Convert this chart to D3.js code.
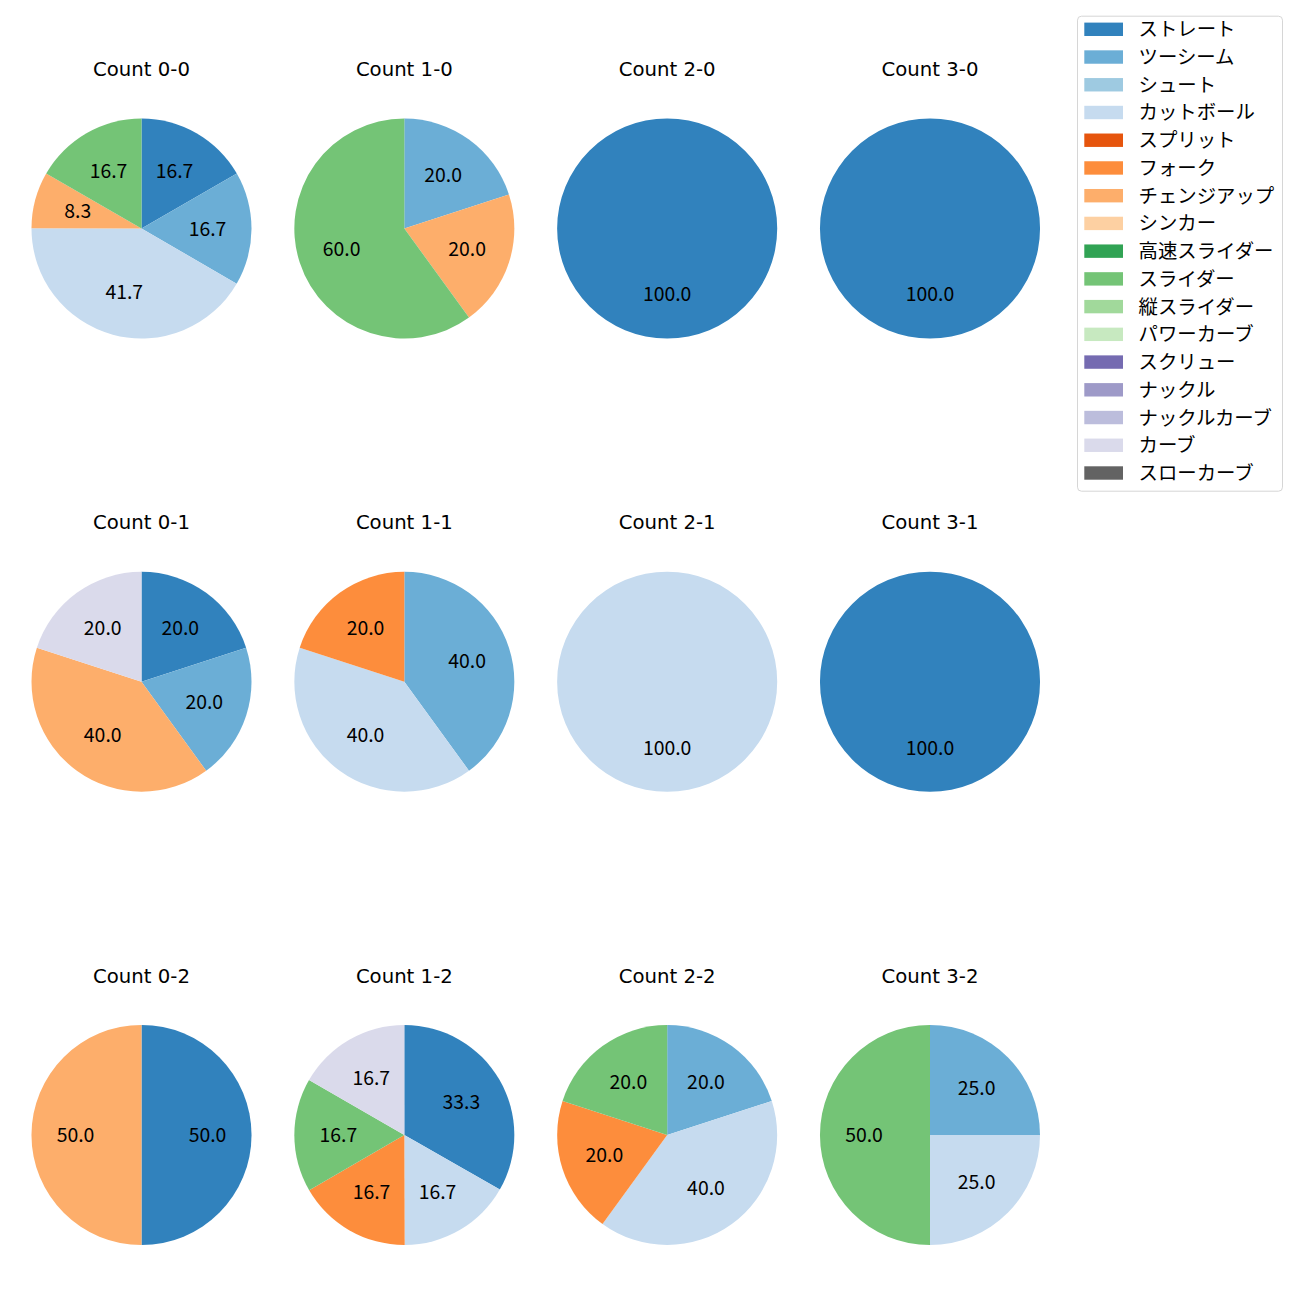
<!DOCTYPE html>
<html>
<head>
<meta charset="utf-8">
<script src="https://cdn.jsdelivr.net/npm/d3@7"></script>
<style>
  html, body { margin: 0; padding: 0; background: #fff; }
  text { font-family: "Noto Sans CJK JP", "Noto Sans", sans-serif; fill: #000; }
  text.title { font-family: "DejaVu Sans", "Noto Sans", sans-serif; }
</style>
</head>
<body>
<svg id="chart" width="1300" height="1300"></svg>
<script>
// ---- data ----
const pitchTypes = ["ストレート","ツーシーム","シュート","カットボール","スプリット","フォーク","チェンジアップ","シンカー","高速スライダー","スライダー","縦スライダー","パワーカーブ","スクリュー","ナックル","ナックルカーブ","カーブ","スローカーブ"];
const pitchColors = ["#3182bd","#6baed6","#9ecae1","#c6dbef","#e6550d","#fd8d3c","#fdae6b","#fdd0a2","#31a354","#74c476","#a1d99b","#c7e9c0","#756bb1","#9e9ac8","#bcbddc","#dadaeb","#636363"];
const countTitles = ["Count 0-0","Count 1-0","Count 2-0","Count 3-0","Count 0-1","Count 1-1","Count 2-1","Count 3-1","Count 0-2","Count 1-2","Count 2-2","Count 3-2"];
// percentage share per pitch type (in pitchTypes order)
const count00 = [16.7,16.7,0,41.7,0,0,8.3,0,0,16.7,0,0,0,0,0,0,0];
const count10 = [0,20.0,0,0,0,0,20.0,0,0,60.0,0,0,0,0,0,0,0];
const count20 = [100.0,0,0,0,0,0,0,0,0,0,0,0,0,0,0,0,0];
const count30 = [100.0,0,0,0,0,0,0,0,0,0,0,0,0,0,0,0,0];
const count01 = [20.0,20.0,0,0,0,0,40.0,0,0,0,0,0,0,0,0,20.0,0];
const count11 = [0,40.0,0,40.0,0,20.0,0,0,0,0,0,0,0,0,0,0,0];
const count21 = [0,0,0,100.0,0,0,0,0,0,0,0,0,0,0,0,0,0];
const count31 = [100.0,0,0,0,0,0,0,0,0,0,0,0,0,0,0,0,0];
const count02 = [50.0,0,0,0,0,0,50.0,0,0,0,0,0,0,0,0,0,0];
const count12 = [33.3,0,0,16.7,0,16.7,0,0,0,16.7,0,0,0,0,0,16.7,0];
const count22 = [0,20.0,0,40.0,0,20.0,0,0,0,20.0,0,0,0,0,0,0,0];
const count32 = [0,25.0,0,25.0,0,0,0,0,0,50.0,0,0,0,0,0,0,0];
const countValues = [count00,count10,count20,count30,count01,count11,count21,count31,count02,count12,count22,count32];

// ---- layout ----
const svg = d3.select("#chart");
const colX = d3.scalePoint().domain([0,1,2,3]).range([141.5, 930]);
const rowY = d3.scalePoint().domain([0,1,2]).range([228.5, 1135]);
const R = 110;
const FS = 19.4;
const color = d3.scaleOrdinal().domain(pitchTypes).range(pitchColors);
const pie = d3.pie().sort(null).value(d => d.value).startAngle(0).endAngle(2*Math.PI);
const arc = d3.arc().innerRadius(0).outerRadius(R);
const labelArc = d3.arc().innerRadius(R*0.6).outerRadius(R*0.6);

countTitles.forEach((title, i) => {
  const col = i % 4, row = Math.floor(i / 4);
  const cx = colX(col), cy = rowY(row);
  const data = pitchTypes.map((p, k) => ({type: p, value: countValues[i][k]})).filter(d => d.value > 0);
  const g = svg.append("g").attr("transform", `translate(${cx},${cy})`);
  const arcs = pie(data);
  g.selectAll("path").data(arcs).join("path")
    .attr("d", arc)
    .attr("fill", d => color(d.data.type));
  g.selectAll("text.lbl").data(arcs).join("text")
    .attr("class","lbl")
    .attr("transform", d => `translate(${labelArc.centroid(d)})`)
    .attr("text-anchor","middle")
    .attr("dy","0.36em")
    .style("font-size", FS + "px")
    .text(d => d.data.value.toFixed(1));
  svg.append("text")
    .attr("class","title")
    .attr("x", cx).attr("y", cy - 152.5)
    .attr("text-anchor","middle")
    .style("font-size", "19.7px")
    .text(title);
});

// ---- legend ----
const legX = 1077, legY = 15.7, legW = 206, legH = 476;
const leg = svg.append("g");
leg.append("rect")
  .attr("x", legX + 0.5).attr("y", legY + 0.5)
  .attr("width", legW - 1).attr("height", legH - 1)
  .attr("rx", 4).attr("ry", 4)
  .attr("fill", "#fff").attr("stroke", "#d6d6d6").attr("stroke-width", 1);
const legRow = d3.scaleLinear().domain([0, pitchTypes.length - 1]).range([29.3, 473]);
const items = leg.selectAll("g.item").data(pitchTypes).join("g")
  .attr("class","item")
  .attr("transform", (d, i) => `translate(${legX + 7.3},${legRow(i)})`);
items.append("rect")
  .attr("x", 0).attr("y", -6.7)
  .attr("width", 38.7).attr("height", 13.4)
  .attr("fill", d => color(d));
items.append("text")
  .attr("x", 38.7 + 15.5).attr("dy", "0.36em")
  .style("font-size", FS + "px")
  .text(d => d);
</script>
</body>
</html>
